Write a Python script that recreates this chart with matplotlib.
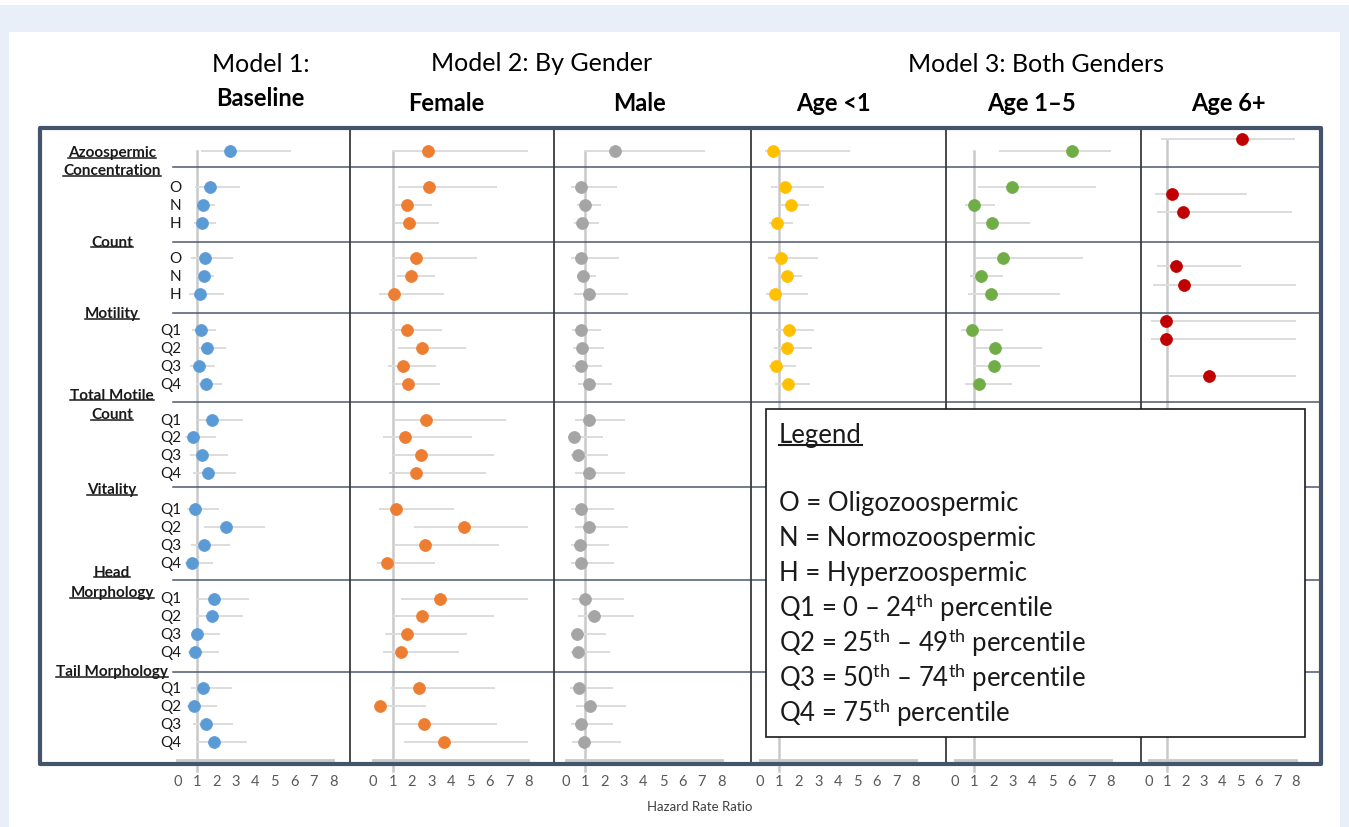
import matplotlib
matplotlib.use('Agg')
import matplotlib.pyplot as plt
from matplotlib.patches import Rectangle
from matplotlib.lines import Line2D

plt.rcParams['font.family'] = ['Lato', 'DejaVu Sans']
plt.rcParams['mathtext.fontset'] = 'custom'
plt.rcParams['mathtext.rm'] = 'Lato'
plt.rcParams['mathtext.it'] = 'Lato:italic'
plt.rcParams['mathtext.bf'] = 'Lato:bold'

# ---------------- data ----------------
row_labels = ['', 'O', 'N', 'H', 'O', 'N', 'H',
              'Q1', 'Q2', 'Q3', 'Q4', 'Q1', 'Q2', 'Q3', 'Q4',
              'Q1', 'Q2', 'Q3', 'Q4', 'Q1', 'Q2', 'Q3', 'Q4',
              'Q1', 'Q2', 'Q3', 'Q4']
category_labels = ['Azoospermic', 'Concentration', 'Count', 'Motility',
                   'Total Motile', 'Count', 'Vitality', 'Head', 'Morphology',
                   'Tail Morphology']
panel_titles = ['Baseline', 'Female', 'Male', 'Age <1', 'Age 1–5', 'Age 6+']
model_titles = ['Model 1:', 'Model 2: By Gender', 'Model 3: Both Genders']
tick_values = [0, 1, 2, 3, 4, 5, 6, 7, 8]
tick_labels = ['0', '1', '2', '3', '4', '5', '6', '7', '8']

# Model 1: Baseline
hr1 = [2.69, 1.70, 1.32, 1.26, 1.43, 1.36, 1.17, 1.21, 1.53, 1.12, 1.46,
       1.80, 0.83, 1.27, 1.55, 0.93, 2.52, 1.39, 0.76, 1.89, 1.80, 1.00, 0.91,
       1.32, 0.88, 1.46, 1.87]
lo1 = [1.24, 0.90, 0.95, 0.85, 0.69, 0.95, 0.59, 0.73, 1.05, 0.64, 0.98,
       1.12, 0.40, 0.64, 0.81, 0.50, 1.38, 0.69, 0.40, 1.03, 1.02, 0.68, 0.55,
       0.68, 0.50, 0.78, 0.98]
hi1 = [5.81, 3.21, 1.92, 1.96, 2.86, 1.87, 2.40, 2.01, 2.49, 1.92, 2.30,
       3.38, 2.01, 2.61, 3.00, 2.13, 4.52, 2.71, 1.84, 3.68, 3.38, 2.18, 2.13,
       2.81, 2.06, 2.88, 3.58]
# Model 2: Female
hr2 = [2.80, 2.87, 1.73, 1.83, 2.21, 1.95, 1.09, 1.76, 2.50, 1.54, 1.81,
       2.74, 1.64, 2.44, 2.19, 1.15, 4.70, 2.65, 0.72, 3.45, 2.50, 1.73, 1.44,
       2.38, 0.36, 2.60, 3.66]
lo2 = [0.96, 1.30, 1.09, 1.08, 0.96, 1.21, 0.32, 0.91, 1.30, 0.75, 1.01,
       1.09, 0.53, 1.04, 0.84, 0.32, 2.10, 1.08, 0.19, 1.44, 1.04, 0.62, 0.50,
       0.92, 0.10, 1.08, 1.59]
hi2 = [7.97, 6.36, 3.01, 3.40, 5.35, 3.21, 3.64, 3.57, 4.77, 3.26, 3.44,
       6.86, 5.09, 6.21, 5.83, 4.14, 7.97, 6.50, 3.21, 7.97, 6.21, 4.84, 4.41,
       6.29, 2.70, 6.38, 7.97]
# Model 2: Male
hr3 = [2.55, 0.77, 1.01, 0.86, 0.82, 0.91, 1.23, 0.79, 0.86, 0.82, 1.20,
       1.21, 0.43, 0.62, 1.21, 0.82, 1.18, 0.72, 0.82, 0.99, 1.47, 0.60, 0.65,
       0.68, 1.25, 0.82, 0.96]
lo3 = [0.99, 0.26, 0.60, 0.43, 0.26, 0.58, 0.46, 0.35, 0.39, 0.35, 0.63,
       0.48, 0.15, 0.30, 0.48, 0.26, 0.48, 0.26, 0.26, 0.35, 0.63, 0.30, 0.30,
       0.21, 0.53, 0.26, 0.35]
hi3 = [7.13, 2.63, 1.81, 1.71, 2.72, 1.54, 3.18, 1.81, 1.97, 1.88, 2.38,
       3.04, 1.91, 2.19, 3.03, 2.50, 3.20, 2.21, 2.48, 3.01, 3.50, 2.10, 2.27,
       2.43, 3.11, 2.43, 2.87]
# Model 3: Age <1
hr4 = [0.67, 1.31, 1.57, 0.86, 1.07, 1.40, 0.75, 1.50, 1.38, 0.83, 1.42]
lo4 = [0.25, 0.58, 1.07, 0.48, 0.41, 1.05, 0.29, 0.82, 0.73, 0.44, 0.79]
hi4 = [4.62, 3.28, 2.51, 1.71, 2.99, 2.15, 2.46, 2.78, 2.68, 1.84, 2.55]
# Model 3: Age 1-5
hr5 = [6.00, 2.93, 1.00, 1.93, 2.49, 1.34, 1.88, 0.88, 2.09, 2.01, 1.28]
lo5 = [2.30, 1.19, 0.52, 1.09, 1.06, 0.81, 0.67, 0.33, 1.09, 1.00, 0.56]
hi5 = [8.00, 7.25, 2.09, 3.86, 6.60, 2.51, 5.40, 2.51, 4.51, 4.40, 2.97]
# Model 3: Age 6+
hr6 = [5.06, 1.29, 1.89, 1.49, 1.91, 0.97, 0.97, 3.31]
lo6 = [0.66, 0.35, 0.48, 0.45, 0.26, 0.12, 0.15, 1.08]
hi6 = [7.96, 5.37, 7.78, 5.01, 8.00, 8.00, 8.00, 8.00]

legend_lines = ['O = Oligozoospermic',
                'N = Normozoospermic',
                'H = Hyperzoospermic',
                r'Q1 = 0 – 24$^{\mathrm{th}}$ percentile',
                r'Q2 = 25$^{\mathrm{th}}$ – 49$^{\mathrm{th}}$ percentile',
                r'Q3 = 50$^{\mathrm{th}}$ – 74$^{\mathrm{th}}$ percentile',
                r'Q4 = 75$^{\mathrm{th}}$ percentile']

# ---------------- layout ----------------
W, H = 1349, 828
fig = plt.figure(figsize=(W / 100, H / 100), dpi=100)
fig.patch.set_facecolor('white')


def fx(x):
    return x / W


def fy(y):
    return 1 - y / H


ROW0, ROWH = 152.0, 17.9


def yrow(y):
    return (y - ROW0) / ROWH


rows_main = [0, 2, 3, 4, 6, 7, 8, 10, 11, 12, 13, 15, 16, 17, 18,
             20, 21, 22, 23, 25, 26, 27, 28, 30, 31, 32, 33]
rows_age6 = [yrow(v) for v in [139.7, 194.7, 212.7, 267.3, 285.7, 322.0, 340.3, 376.7]]
sep_rows = [yrow(v) for v in [168.3, 242.7, 314.3, 403.3, 487.7, 580.5, 673.3]]
cat_rows = [yrow(v) for v in [153.3, 171.0, 242.7, 314.3, 395.7, 415.0, 490.0,
                               572.7, 593.3, 672.3]]

FL, FR, FT, FB = 39.5, 1321.0, 129.0, 764.5
# (left px, right px, px of value 0, px per unit)
panels_px = [(FL, 350.0, 177.3, 19.5), (350.0, 554.3, 373.2, 19.4),
             (554.3, 751.0, 565.5, 19.5), (751.0, 945.5, 760.0, 19.46),
             (945.5, 1140.5, 954.5, 19.5), (1140.5, FR, 1148.5, 18.4)]
colors = ['#5B9BD5', '#ED7D31', '#A5A5A5', '#FFC000', '#70AD47', '#C00000']
series = [(hr1, lo1, hi1, rows_main), (hr2, lo2, hi2, rows_main),
          (hr3, lo3, hi3, rows_main), (hr4, lo4, hi4, rows_main[:11]),
          (hr5, lo5, hi5, rows_main[:11]), (hr6, lo6, hi6, rows_age6)]

# background
fig.add_artist(Rectangle((0, 0), 1, fy(6), transform=fig.transFigure,
                         facecolor='#E9EFF8', edgecolor='none', zorder=-5))
fig.add_artist(Rectangle((fx(9), 0), fx(1340) - fx(9), fy(33), transform=fig.transFigure,
                         facecolor='white', edgecolor='none', zorder=-4))

axes = []
for i, (l, r, x0, s) in enumerate(panels_px):
    ax = fig.add_axes([fx(l), fy(FB), fx(r) - fx(l), (FB - FT) / H])
    ax.set_facecolor('none')
    ax.set_xlim((l - x0) / s, (r - x0) / s)
    ax.set_ylim(yrow(FB), yrow(FT))
    for sp in ['top', 'right']:
        ax.spines[sp].set_visible(False)
    ax.spines['left'].set_visible(i > 0)
    ax.spines['left'].set_color('#3A3A3A')
    ax.spines['left'].set_linewidth(1.3)
    ax.spines['bottom'].set_bounds(0, 8)
    ax.spines['bottom'].set_position(('axes', (FB - 760.5) / (FB - FT)))
    ax.spines['bottom'].set_color('#C9C9C9')
    ax.spines['bottom'].set_linewidth(2.0)
    ax.set_xticks(tick_values)
    ax.set_xticklabels(tick_labels)
    ax.tick_params(axis='x', length=0, pad=10.5, labelsize=10.5, labelcolor='#595959')
    ax.set_yticks([])

    hr, lo, hi, rows = series[i]
    top = rows[0] if i == 5 else 0
    ax.plot([1, 1], [top, yrow(772)], color='#C9C9C9', lw=1.8, zorder=1, clip_on=False)
    ax.hlines(rows, lo, hi, color='#DCDCDC', lw=1.4, zorder=2)
    ax.plot(hr, rows, 'o', ms=8.6, color=colors[i], mec=colors[i], mew=0.5, zorder=3)

    xmin = (173.0 - l) / (r - l) if i == 0 else 0
    for sr in sep_rows:
        ax.axhline(sr, xmin=xmin, xmax=1, color='#4A5870', lw=1.1, zorder=1.5)
    axes.append(ax)

# row labels and category labels (panel 1)
ax1 = axes[0]
l, r, x0, s = panels_px[0]
for lab, rw in zip(row_labels, rows_main):
    if lab:
        ax1.text((181 - x0) / s, rw, lab, ha='right', va='center',
                 fontsize=11, color='#1A1A1A')
cat_texts = []
for lab, rw in zip(category_labels, cat_rows):
    t = ax1.text((112 - x0) / s, rw, lab, ha='center', va='center',
                 fontsize=11, fontweight='bold', color='#1A1A1A')
    cat_texts.append(t)

# headers
fig.text(fx(261), fy(72), model_titles[0], ha='center', va='baseline', fontsize=18)
fig.text(fx(541.5), fy(71), model_titles[1], ha='center', va='baseline', fontsize=18)
fig.text(fx(1036), fy(72), model_titles[2], ha='center', va='baseline', fontsize=18)
fig.text(fx(260), fy(106), panel_titles[0], ha='center', va='baseline', fontsize=17, fontweight='bold')
for x, lab in zip([446.5, 639.5, 833.5, 1031.5, 1228.5], panel_titles[1:]):
    fig.text(fx(x), fy(111), lab, ha='center', va='baseline', fontsize=17, fontweight='bold')

fig.text(fx(700), fy(807), 'Hazard Rate Ratio', ha='center', va='center',
         fontsize=9.5, color='#404040')

# frame
fig.add_artist(Rectangle((fx(FL), fy(FB)), fx(FR) - fx(FL), (FB - FT) / H,
                         transform=fig.transFigure, fill=False, edgecolor='#44546A',
                         linewidth=3.0, joinstyle='round', zorder=5))

# legend box
fig.add_artist(Rectangle((fx(765.5), fy(738)), fx(1305) - fx(765.5), (738 - 410) / H,
                         transform=fig.transFigure, facecolor='white', edgecolor='#1A1A1A',
                         linewidth=1.2, zorder=6))
leg_title = fig.text(fx(779), fy(436), 'Legend', ha='left', va='center', fontsize=18.5,
                     color='#1A1A1A', zorder=7)
for k, line in enumerate(legend_lines):
    fig.text(fx(779), fy(504 + 34.8 * k), line, ha='left', va='center', fontsize=18.5,
             color='#1A1A1A', zorder=7)

# underlines
fig.canvas.draw()
renderer = fig.canvas.get_renderer()
inv = fig.transFigure.inverted()
for t, lw, off in [(tt, 1.1, 1.5) for tt in cat_texts] + [(leg_title, 1.5, 2.5)]:
    bb = t.get_window_extent(renderer)
    (a0, b0) = inv.transform((bb.x0, bb.y0 + off))
    (a1, _) = inv.transform((bb.x1, bb.y0 + off))
    fig.add_artist(Line2D([a0, a1], [b0, b0], transform=fig.transFigure,
                          color='#1A1A1A', lw=lw, zorder=8))

fig.savefig('out.png', dpi=100)
